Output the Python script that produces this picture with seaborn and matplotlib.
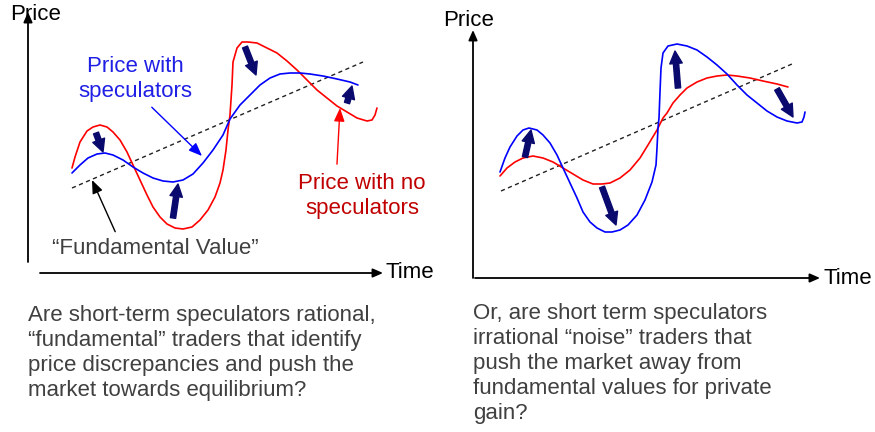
import numpy as np
import seaborn as sns
import matplotlib.pyplot as plt

sns.set_theme(style='white')
plt.rcParams['font.family'] = ['Liberation Sans', 'DejaVu Sans']

# Left panel: speculators stabilise the price (time / price measured from the axis corner)
left_red_t = [44, 47, 52, 59, 65, 72, 79, 85, 92, 99, 105, 112, 119, 125, 132, 139, 147, 155, 164, 172,
              180, 187, 192, 195, 198, 200, 202, 204, 205, 209, 214, 220, 229, 239, 249, 259, 269, 279,
              289, 299, 309, 319, 329, 339, 344, 347, 349]
left_red_p = [105, 116, 131, 142, 146, 148, 146, 141, 133, 121, 108, 93, 78, 66, 56, 49, 45, 44, 46, 53,
              63, 76, 90, 103, 123, 143, 158, 188, 211, 225, 231, 231, 230, 225, 220, 212, 203, 193,
              183, 175, 167, 161, 155, 152, 153, 158, 165]
left_blue_t = [44, 52, 60, 69, 77, 85, 95, 105, 115, 125, 135, 145, 155, 165, 175, 185, 195, 202, 212,
               222, 232, 242, 252, 262, 272, 282, 295, 309, 322, 330]
left_blue_p = [100, 108, 115, 119, 120, 118, 113, 106, 100, 95, 92, 91, 93, 99, 110, 123, 138, 154, 168,
               178, 188, 195, 199, 200, 200, 199, 197, 194, 191, 188]
left_fund_t = [44, 335]
left_fund_p = [85, 211]
# block arrows: (tail t, tail p, head t, head p)
left_push = [(68, 140, 75, 121), (145, 55, 150, 89), (217, 226, 228, 198), (319, 170, 324, 187)]

# Right panel: speculators destabilise the price
right_blue_t = [27, 32, 37, 44, 50, 56, 64, 70, 77, 84, 90, 97, 104, 110, 117, 124, 132, 139, 147, 155,
                164, 172, 179, 183, 184, 185, 186, 187, 188, 190, 195, 204, 214, 224, 234, 244, 254,
                264, 274, 284, 294, 304, 314, 324, 329, 331, 332]
right_blue_p = [106, 120, 131, 142, 148, 150, 148, 143, 135, 123, 110, 95, 80, 66, 56, 50, 46, 46, 48, 53,
                63, 78, 96, 113, 130, 150, 160, 186, 210, 225, 232, 234, 232, 228, 221, 213, 204,
                193, 183, 175, 167, 161, 157, 155, 156, 161, 166]
right_red_t = [27, 34, 42, 50, 60, 70, 80, 90, 100, 110, 120, 129, 137, 147, 157, 167, 175, 184, 190,
               194, 200, 207, 214, 224, 234, 244, 254, 264, 277, 290, 304, 315]
right_red_p = [102, 110, 116, 120, 122, 120, 116, 110, 104, 98, 94, 94, 95, 100, 108, 120, 133, 148, 160,
               165, 175, 183, 190, 196, 200, 202, 203, 202, 200, 197, 194, 191]
right_fund_t = [28, 319]
right_fund_p = [87, 214]
right_push = [(52, 121, 58, 148), (129, 91, 143, 53), (205, 190, 202, 227), (304, 189, 320, 161)]

left_text = ("Are short-term speculators rational,\n\u201cfundamental\u201d traders that identify\n"
             "price discrepancies and push the\nmarket towards equilibrium?")
right_text = ("Or, are short term speculators\nirrational \u201cnoise\u201d traders that\n"
              "push the market away from\nfundamental values for private\ngain?")

RED = '#ff0000'
BLUE = '#0000ff'
NAVY = '#0a0a6e'
GREY = '#404040'
FS = 16

fig = plt.figure(figsize=(8.75, 4.32), dpi=100)
axl = fig.add_axes([0, 0, 0.5, 1])
axr = fig.add_axes([0.5, 0, 0.5, 1])
axl.set_xlim(-28, 409.5)
axl.set_ylim(-159, 273)
axr.set_xlim(-35.5, 402)
axr.set_ylim(-154, 278)
for ax in (axl, axr):
    ax.axis('off')


def draw_axes(ax, y_from, y_to, x_from, x_to):
    ax.annotate('', xy=(0, y_to), xytext=(0, y_from),
                arrowprops=dict(arrowstyle='-|>,head_length=0.5,head_width=0.22', color='black', lw=1.3,
                                shrinkA=0, shrinkB=0))
    ax.annotate('', xy=(x_to, 0), xytext=(x_from, 0),
                arrowprops=dict(arrowstyle='-|>,head_length=0.5,head_width=0.22', color='black', lw=1.3,
                                shrinkA=0, shrinkB=0))


def draw_push(ax, arrows):
    for t0, p0, t1, p1 in arrows:
        ax.annotate('', xy=(t1, p1), xytext=(t0, p0),
                    arrowprops=dict(arrowstyle='simple,head_length=0.9,head_width=0.9,tail_width=0.38',
                                    fc=NAVY, ec=NAVY, mutation_scale=10, shrinkA=0, shrinkB=0))


def draw_curve(ax, t, p, color):
    sns.lineplot(x=t, y=p, ax=ax, color=color, lw=1.2, sort=False, estimator=None,
                 solid_joinstyle='round', solid_capstyle='round')


# left panel
draw_axes(axl, 11, 261, 12, 355)
sns.lineplot(x=left_fund_t, y=left_fund_p, ax=axl, color='#222222', lw=1, linestyle=(0, (3, 2.5)),
             sort=False, estimator=None)
draw_curve(axl, left_red_t, left_red_p, RED)
draw_curve(axl, left_blue_t, left_blue_p, BLUE)
draw_push(axl, left_push)
axl.text(-18, 258, 'Price', fontsize=FS, ha='left', va='center', color='black')
axl.text(357, 0, 'Time', fontsize=FS, ha='left', va='center', color='black')
axl.annotate('Price with\nspeculators', xy=(174, 117), xytext=(107, 194), fontsize=FS, color='#1f1fe6',
             ha='center', va='center', linespacing=1.25,
             arrowprops=dict(arrowstyle='-|>,head_length=0.5,head_width=0.2', color=BLUE, lw=1,
                             relpos=(0.6, 0), shrinkA=2, shrinkB=0))
axl.annotate('Price with no\nspeculators', xy=(312, 165), xytext=(334, 77), fontsize=FS, color='#c00000',
             ha='center', va='center', linespacing=1.25,
             arrowprops=dict(arrowstyle='-|>,head_length=0.5,head_width=0.2', color=RED, lw=1,
                             relpos=(0.3, 1), shrinkA=4, shrinkB=0))
axl.annotate('\u201cFundamental Value\u201d', xy=(64, 93), xytext=(127, 25), fontsize=FS, color=GREY,
             ha='center', va='center',
             arrowprops=dict(arrowstyle='-|>,head_length=0.5,head_width=0.2', color='black', lw=1,
                             relpos=(0.32, 1), shrinkA=2, shrinkB=0))

# right panel
draw_axes(axr, 0, 248, 2, 347)
sns.lineplot(x=right_fund_t, y=right_fund_p, ax=axr, color='#222222', lw=1, linestyle=(0, (3, 2.5)),
             sort=False, estimator=None)
draw_curve(axr, right_red_t, right_red_p, RED)
draw_curve(axr, right_blue_t, right_blue_p, BLUE)
draw_push(axr, right_push)
axr.text(-30, 258, 'Price', fontsize=FS, ha='left', va='center', color='black')
axr.text(350, 0, 'Time', fontsize=FS, ha='left', va='center', color='black')

# questions below the panels
fig.text(28 / 875, 1 - 305 / 432, left_text, fontsize=FS, color=GREY, ha='left', va='top', linespacing=1.25)
fig.text(473 / 875, 1 - 303 / 432, right_text, fontsize=FS, color=GREY, ha='left', va='top', linespacing=1.25)

fig.savefig('out.png', dpi=100)
